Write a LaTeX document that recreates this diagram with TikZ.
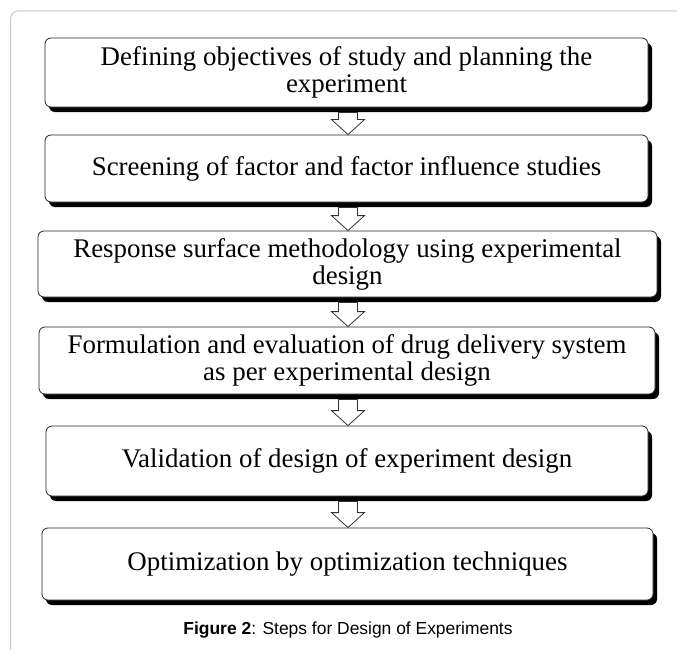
\documentclass[tikz,border=0pt]{standalone}
\usepackage{fontspec}
\setmainfont{Liberation Serif}
\newfontfamily\capfont{Liberation Sans}
\usetikzlibrary{calc}
\usetikzlibrary{shadows}

\begin{document}
\begin{tikzpicture}[x=1bp,y=-1bp,semithick]
  \tikzstyle{stepbox}=[draw=black!85, fill=white, rounded corners=6bp, inner sep=0pt, align=center, line width=0.8bp, font=\fontsize{27}{27}\selectfont, drop shadow={shadow xshift=4bp,shadow yshift=-5bp,fill=black,opacity=1}]
  \tikzstyle{blockarrow}=[draw=black!80, fill=white, line width=0.8bp, line join=miter]
  \useasboundingbox (0,0) rectangle (677,650);
  % frame
  \draw[black!22, line width=1bp, rounded corners=8bp] (10.5,650) -- (10.5,11) -- (677,11);
  \coordinate (axis) at (348,0);
  \node[stepbox, minimum width=603bp, minimum height=69bp] (s1) at (346.5,72.5) {Defining objectives of study and planning the\\experiment};
  \node[stepbox, minimum width=603bp, minimum height=67bp] (s2) at (346.5,168.5) {Screening of factor and factor influence studies};
  \node[stepbox, minimum width=619bp, minimum height=66bp] (s3) at (347.5,264) {Response surface methodology using experimental\\design};
  \node[stepbox, minimum width=616bp, minimum height=67bp] (s4) at (347,360.5) {Formulation and evaluation of drug delivery system\\as per experimental design};
  \node[stepbox, minimum width=602bp, minimum height=70bp] (s5) at (347,461) {Validation of design of experiment design};
  \node[stepbox, minimum width=611bp, minimum height=72bp] (s6) at (347.5,564) {Optimization by optimization techniques};
  % hollow arrows
  \foreach \a/\b in {s1/s2,s2/s3,s3/s4,s4/s5,s5/s6}
    \draw[blockarrow] ($(\a.south -| axis)+(-9.5,5)$) -- ($(\a.south -| axis)+(9.5,5)$)
      -- ($(\b.north -| axis)+(9.5,-15)$) -- ($(\b.north -| axis)+(16.5,-15)$)
      -- (\b.north -| axis) -- ($(\b.north -| axis)+(-16.5,-15)$)
      -- ($(\b.north -| axis)+(-9.5,-15)$) -- cycle;
  \node[font=\capfont\fontsize{17.5}{20}\selectfont] (caption) at (348,630) {\textbf{Figure 2}: Steps for Design of Experiments};
\end{tikzpicture}
\end{document}
